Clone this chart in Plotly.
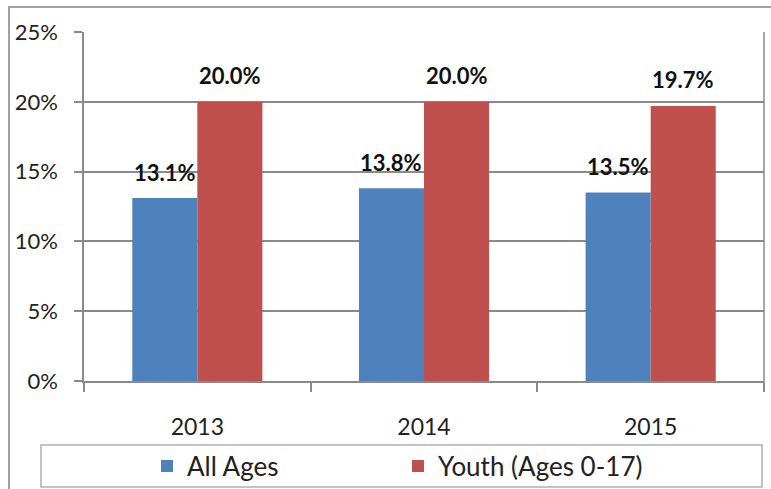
import plotly.graph_objects as go

years = ["2013", "2014", "2015"]
all_ages = [13.1, 13.8, 13.5]
youth = [20.0, 20.0, 19.7]
series_names = ["All Ages", "Youth (Ages 0-17)"]
y_ticks = [0, 5, 10, 15, 20, 25]
y_tick_labels = ["0%", "5%", "10%", "15%", "20%", "25%"]

BLUE = "#4F81BD"
RED = "#C0504D"
GRID = "#8a8a8a"
FONT = "Lato, 'Open Sans', sans-serif"

fig = go.Figure()
fig.add_trace(go.Bar(x=years, y=all_ages, name=series_names[0], marker_color=BLUE,
                     marker_line_width=0))
fig.add_trace(go.Bar(x=years, y=youth, name=series_names[1], marker_color=RED,
                     marker_line_width=0))

annotations = []
for i, yr in enumerate(years):
    for vals, xs in ((all_ages, -0.5), (youth, 0.5)):
        annotations.append(dict(
            x=i + xs * 0.287, y=vals[i], xref="x", yref="y",
            text=f"{vals[i]:.1f}%", showarrow=False, yanchor="middle",
            yshift=26, font=dict(family=FONT, size=22, color="#111111", weight="bold")))

L, R, T, B = 84, 7, 32, 108
W, H = 771, 489
pw, ph = W - L - R, H - T - B

def px(xp):
    return (xp - L) / pw

def py(yp):
    return (H - B - yp) / ph

shapes = [
    # outer chart border
    dict(type="rect", xref="paper", yref="paper", x0=px(9), x1=px(790), y0=py(510), y1=py(7),
         line=dict(color="#a0a0a0", width=2), fillcolor="rgba(0,0,0,0)", layer="below"),
    # right plot edge
    dict(type="line", xref="paper", yref="paper", x0=1, x1=1, y0=py(387), y1=1,
         line=dict(color=GRID, width=1.5)),
    # legend box
    dict(type="rect", xref="paper", yref="paper", x0=px(41), x1=px(762), y0=py(487), y1=py(445),
         line=dict(color="#b0b0b0", width=1.5), fillcolor="rgba(0,0,0,0)"),
]

fig.update_layout(
    width=W, height=H,
    margin=dict(l=L, r=R, t=T, b=B, pad=0, autoexpand=False),
    paper_bgcolor="white", plot_bgcolor="white",
    barmode="group", bargap=0.426, bargroupgap=0,
    font=dict(family=FONT, size=22, color="#222222"),
    showlegend=True,
    legend=dict(orientation="h", x=px(147), xanchor="left", y=py(466), yanchor="middle",
                font=dict(family=FONT, size=26, color="#222222"), entrywidth=206,
                bgcolor="rgba(0,0,0,0)", borderwidth=0, traceorder="normal"),
    annotations=annotations,
    shapes=shapes,
    xaxis=dict(type="category", showline=True, linecolor=GRID, linewidth=1.5,
               ticks="outside", tickson="boundaries", ticklen=9, tickcolor=GRID, tickwidth=1.5,
               ticklabelstandoff=25, showgrid=False, fixedrange=True, automargin=False,
               tickfont=dict(size=23)),
    yaxis=dict(range=[0, 25], tickvals=y_ticks, ticktext=y_tick_labels,
               showline=True, linecolor=GRID, linewidth=1.5,
               ticks="outside", ticklen=8, tickcolor=GRID, tickwidth=1.5,
               ticklabelstandoff=12, automargin=False, fixedrange=True,
               showgrid=True, gridcolor=GRID, gridwidth=1.5, zeroline=False),
)

fig.write_html("out.html", config={"displayModeBar": False},
               post_script="document.body.style.margin='0';")
